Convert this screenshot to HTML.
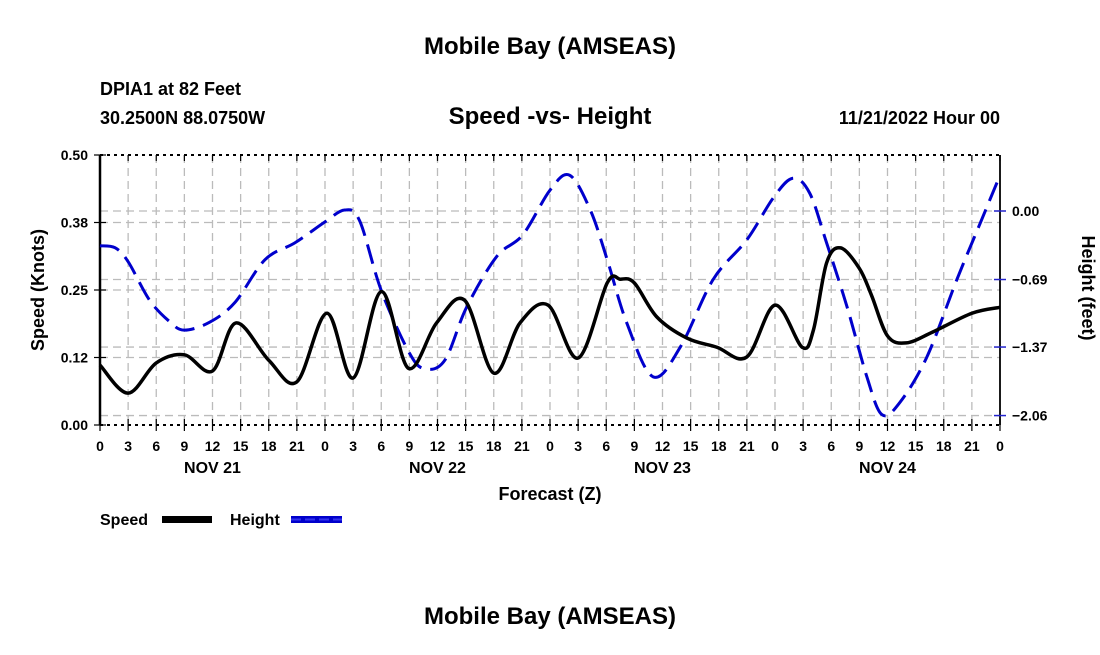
<!DOCTYPE html>
<html><head><meta charset="utf-8"><style>
body{margin:0;background:#fff;}
svg text{font-family:"Liberation Sans",Arial,sans-serif;font-weight:bold;fill:#000;}
</style></head><body>
<svg width="1100" height="650" viewBox="0 0 1100 650">
<text x="550" y="54" font-size="24" text-anchor="middle">Mobile Bay (AMSEAS)</text>
<text x="100" y="95" font-size="18">DPIA1 at 82 Feet</text>
<text x="100" y="124" font-size="18">30.2500N  88.0750W</text>
<text x="550" y="124" font-size="24" text-anchor="middle">Speed -vs- Height</text>
<text x="1000" y="124" font-size="18" text-anchor="end">11/21/2022 Hour 00</text>
<g id="grid"></g>
<g id="axes"></g>
<g id="series"></g>
<text x="550" y="500" font-size="18" text-anchor="middle">Forecast (Z)</text>
<text transform="translate(44,290) rotate(-90)" font-size="18" text-anchor="middle">Speed (Knots)</text>
<text transform="translate(1082,288) rotate(90)" font-size="18" text-anchor="middle">Height (feet)</text>
<g><text x="100" y="525" font-size="16">Speed</text><rect x="162" y="516" width="50" height="7" fill="#000"/></g>
<g><text x="230" y="525" font-size="16">Height</text><rect x="291" y="516" width="51" height="7" fill="#0000cc"/><line x1="291" y1="519.5" x2="342" y2="519.5" stroke="#3333ee" stroke-width="2" stroke-dasharray="10,4"/></g>
<text x="550" y="624" font-size="24" text-anchor="middle">Mobile Bay (AMSEAS)</text>
</svg>
<script>
const speedHours=[0,3,6,9,12,14.5,18,21,24.2,27,30,32.9,35.9,38.9,42,44.8,47.8,51,54.1,55.5,57,59.4,62.6,65.8,69,72,74.9,76.1,77.5,79,81,82.3,84,86,88.8,93,96];
const speedValues=[0.111,0.059,0.115,0.13,0.10,0.189,0.12,0.08,0.207,0.087,0.247,0.105,0.189,0.231,0.096,0.189,0.222,0.124,0.263,0.27,0.263,0.2,0.161,0.144,0.126,0.222,0.144,0.176,0.30,0.328,0.29,0.24,0.165,0.152,0.172,0.207,0.218];
const heightHours=[0,1.6,3,5.3,7.5,9,11.7,14.4,17.6,20.8,24,26.1,27.7,30,33,34.7,36.8,39.1,42.3,45.1,48,50.1,52.3,54.1,56.2,59,61.9,65.4,69,71.8,73.9,75.7,77.5,79.7,81.8,83.4,85.3,88.2,91.4,93.9,96];
const heightValues=[-0.35,-0.37,-0.51,-0.90,-1.12,-1.20,-1.12,-0.92,-0.49,-0.32,-0.11,0.01,-0.10,-0.80,-1.43,-1.59,-1.50,-0.97,-0.46,-0.24,0.21,0.36,0.01,-0.49,-1.13,-1.67,-1.37,-0.69,-0.29,0.13,0.33,0.18,-0.32,-0.97,-1.67,-2.05,-1.93,-1.47,-0.69,-0.12,0.36];
const leftTicks=[0,0.125,0.25,0.375,0.5];
const leftTickLabels=["0.00","0.12","0.25","0.38","0.50"];
const rightTicks=[0,-0.69,-1.37,-2.06];
const rightTickLabels=["0.00","\u22120.69","\u22121.37","\u22122.06"];
const xTickHours=[];for(let h=0;h<=96;h+=3)xTickHours.push(h);
const dayLabels=["NOV 21","NOV 22","NOV 23","NOV 24"];
const X0=100,X1=1000,Y0=425,Y1=155;
const xs=h=>X0+h*(X1-X0)/96;
const yL=v=>Y0-v*(Y0-Y1)/0.5;
const yR=v=>211-v*99.3;
const NS="http://www.w3.org/2000/svg";
function mk(t,a,p){const e=document.createElementNS(NS,t);for(const k in a)e.setAttribute(k,a[k]);p.appendChild(e);return e;}
const grid=document.getElementById('grid'),axes=document.getElementById('axes'),ser=document.getElementById('series');
xTickHours.forEach((h,i)=>{if(i>0&&i<xTickHours.length-1){const l=mk('line',{x1:xs(h),x2:xs(h),y1:Y1,y2:Y0,stroke:'#bbb','stroke-width':1.3,'stroke-dasharray':'8,5'},grid);}});
leftTicks.slice(1,-1).forEach(v=>{const l=mk('line',{x1:X0,x2:X1,y1:yL(v),y2:yL(v),stroke:'#bbb','stroke-width':1.3,'stroke-dasharray':'8,5'},grid);});
rightTicks.forEach(v=>{const l=mk('line',{x1:X0,x2:X1,y1:yR(v),y2:yR(v),stroke:'#bbb','stroke-width':1.3,'stroke-dasharray':'8,5'},grid);});
mk('line',{x1:X0,x2:X1,y1:Y1,y2:Y1,stroke:'#000','stroke-width':2,'stroke-dasharray':'3,4'},axes);
mk('line',{x1:X0,x2:X1,y1:Y0,y2:Y0,stroke:'#000','stroke-width':2,'stroke-dasharray':'3,4'},axes);
mk('line',{x1:X0,x2:X0,y1:Y1,y2:Y0,stroke:'#000','stroke-width':2.5},axes);
mk('line',{x1:X1,x2:X1,y1:Y1,y2:Y0,stroke:'#000','stroke-width':1.8},axes);
xTickHours.forEach((h,i)=>{mk('line',{x1:xs(h),x2:xs(h),y1:Y0-6,y2:Y0+6,stroke:'#000','stroke-width':1.2},axes);mk('line',{x1:xs(h),x2:xs(h),y1:Y1,y2:Y1+6,stroke:'#000','stroke-width':1.2},axes);
const t=mk('text',{x:xs(h),y:451,'font-size':14,'text-anchor':'middle'},axes);t.textContent=String(h%24);});
dayLabels.forEach((d,i)=>{const t=mk('text',{x:xs(i*24+12),y:473,'font-size':16,'text-anchor':'middle'},axes);t.textContent=d;});
leftTicks.forEach((v,i)=>{mk('line',{x1:X0-6,x2:X0+6,y1:yL(v),y2:yL(v),stroke:'#000','stroke-width':1.2},axes);const t=mk('text',{x:X0-12,y:yL(v)+5,'font-size':14,'text-anchor':'end'},axes);t.textContent=leftTickLabels[i];});
rightTicks.forEach((v,i)=>{mk('line',{x1:X1-6,x2:X1+6,y1:yR(v),y2:yR(v),stroke:'#2222cc','stroke-width':1.5},axes);const t=mk('text',{x:X1+12,y:yR(v)+5,'font-size':14},axes);t.textContent=rightTickLabels[i];});
function smooth(pts){let d='M'+pts[0][0]+','+pts[0][1];for(let i=0;i<pts.length-1;i++){const p0=pts[Math.max(0,i-1)],p1=pts[i],p2=pts[i+1],p3=pts[Math.min(pts.length-1,i+2)];
const c1=[p1[0]+(p2[0]-p0[0])/6,p1[1]+(p2[1]-p0[1])/6],c2=[p2[0]-(p3[0]-p1[0])/6,p2[1]-(p3[1]-p1[1])/6];d+=' C'+c1+' '+c2+' '+p2;}return d;}
const hp=mk('path',{d:smooth(heightHours.map((h,i)=>[xs(h),yR(heightValues[i])])),fill:'none',stroke:'#0000cc','stroke-width':3,'stroke-dasharray':'20,9'},ser);

const sp=mk('path',{d:smooth(speedHours.map((h,i)=>[xs(h),yL(speedValues[i])])),fill:'none',stroke:'#000','stroke-width':3.5},ser);

</script>
</body></html>
